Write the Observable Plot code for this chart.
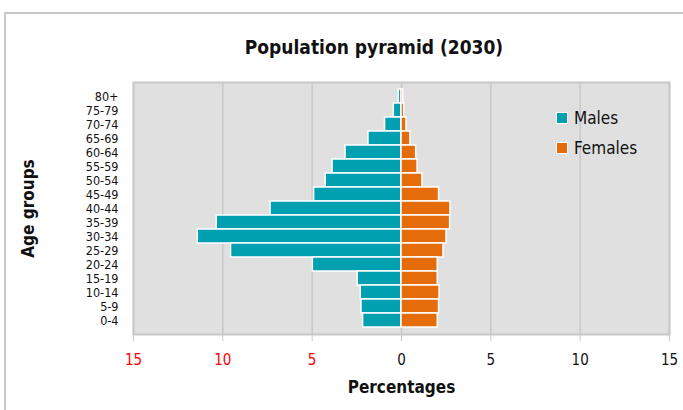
<!DOCTYPE html>
<html>
<head>
<meta charset="utf-8">
<script src="https://cdn.jsdelivr.net/npm/d3@7"></script>
<script src="https://cdn.jsdelivr.net/npm/@observablehq/plot@0.6"></script>
<style>
  html, body { margin: 0; padding: 0; background: #fff; }
  #wrap { position: relative; width: 683px; height: 410px; overflow: hidden;
    font-family: "DejaVu Sans Condensed", "Liberation Sans Narrow", sans-serif; }
  #border { position: absolute; left: 4px; top: 12px; width: 720px; height: 420px;
    border-left: 2px solid #c8c8c8; border-top: 2px solid #c8c8c8; box-sizing: border-box; }
  #title { position: absolute; left: 0; width: 748px; top: 36px; text-align: center;
    font-size: 19px; font-weight: bold; color: #111; }
  #chart { position: absolute; left: 0; top: 0; }
  #legend { position: absolute; left: 556px; top: 103px; font-size: 17px; color: #111; }
  #legend .row { display: flex; align-items: center; height: 30px; }
  #legend .sw { width: 10px; height: 10px; border: 1px solid #fff; margin-right: 6px; }
</style>
</head>
<body>
<div id="wrap">
  <div id="border"></div>
  <div id="chart"></div>
  <div id="title">Population pyramid (2030)</div>
  <div id="legend"></div>
</div>
<script>
const ageGroups = ["80+","75-79","70-74","65-69","60-64","55-59","50-54","45-49","40-44","35-39","30-34","25-29","20-24","15-19","10-14","5-9","0-4"];
const males   = [0.15, 0.43, 0.92, 1.85, 3.13, 3.86, 4.24, 4.89, 7.33, 10.34, 11.4, 9.54, 4.96, 2.45, 2.28, 2.24, 2.15];
const females = [0.10, 0.15, 0.28, 0.50, 0.82, 0.90, 1.17, 2.10, 2.74, 2.72, 2.52, 2.35, 2.03, 2.03, 2.13, 2.10, 2.03];
const seriesNames = ["Males", "Females"];
const seriesColors = ["#00a0b1", "#e46c0a"];
const negTicks = [-15, -10, -5];
const posTicks = [0, 5, 10, 15];

const maleData = ageGroups.map((age, i) => ({age, value: -males[i]}));
const femaleData = ageGroups.map((age, i) => ({age, value: females[i]}));

const chart = Plot.plot({
  width: 683,
  height: 410,
  marginTop: 82,
  marginBottom: 76,
  marginLeft: 133,
  marginRight: 14,
  style: {fontFamily: '"DejaVu Sans Condensed", sans-serif', background: "transparent"},
  x: {domain: [-15, 15]},
  y: {domain: ageGroups, padding: 0},
  marks: [
    Plot.frame({fill: "#e0e0e0"}),
    Plot.gridX([...negTicks, ...posTicks], {stroke: "#c8c8c8", strokeOpacity: 1, strokeWidth: 1.5}),
    Plot.barX(maleData, {y: "age", x: "value", fill: seriesColors[0], stroke: "#fff", strokeWidth: 1.5}),
    Plot.barX(femaleData, {y: "age", x: "value", fill: seriesColors[1], stroke: "#fff", strokeWidth: 1.5}),
    Plot.frame({stroke: "#c8c8c8", strokeWidth: 2}),
    Plot.axisX(negTicks, {tickSize: 7, tickPadding: 13, stroke: "#c8c8c8", fill: "#ff0000", fontSize: 15,
      tickFormat: d => Math.abs(d), label: null}),
    Plot.axisX(posTicks, {tickSize: 7, tickPadding: 13, stroke: "#c8c8c8", fill: "#111", fontSize: 15,
      tickFormat: d => Math.abs(d), label: "Percentages", labelAnchor: "center", labelArrow: "none", labelOffset: 58}),
    Plot.axisY({tickSize: 0, tickPadding: 15, fontSize: 12.5, fill: "#111",
      label: "Age groups", labelAnchor: "center", labelArrow: "none", labelOffset: 112})
  ]
});
document.getElementById("chart").appendChild(chart);

d3.select(chart).selectAll('[aria-label="x-axis label"] text, [aria-label="y-axis label"] text')
  .attr("font-weight", "bold").attr("font-size", 17).attr("fill", "#111");

const legend = d3.select("#legend");
seriesNames.forEach((n, i) => {
  const row = legend.append("div").attr("class", "row");
  row.append("div").attr("class", "sw").style("background", seriesColors[i]);
  row.append("span").text(n);
});
</script>
</body>
</html>
